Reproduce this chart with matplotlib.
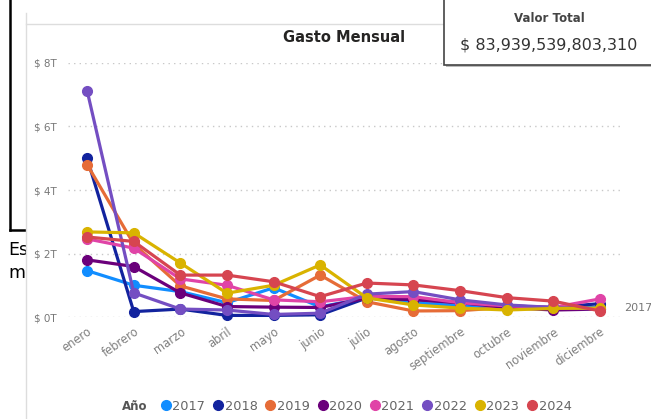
import matplotlib.pyplot as plt
from matplotlib.patches import Rectangle
from matplotlib.lines import Line2D

meses = ['enero', 'febrero', 'marzo', 'abril', 'mayo', 'junio', 'julio',
         'agosto', 'septiembre', 'octubre', 'noviembre', 'diciembre']
anios = ['2017', '2018', '2019', '2020', '2021', '2022', '2023', '2024']
colores = ['#118DFF', '#12239E', '#E66C37', '#6B007B',
           '#E044A7', '#744EC2', '#D9B300', '#D64550']

# gasto mensual en billones (T)
g2017 = [1.46, 1.0, 0.8, 0.45, 0.92, 0.32, 0.6, 0.45, 0.35, 0.3, 0.3, 0.3]
g2018 = [5.0, 0.17, 0.25, 0.05, 0.05, 0.07, 0.6, 0.55, 0.45, 0.35, 0.3, 0.42]
g2019 = [4.8, 2.3, 0.98, 0.57, 0.52, 1.32, 0.48, 0.19, 0.2, 0.3, 0.3, 0.25]
g2020 = [1.8, 1.59, 0.76, 0.33, 0.31, 0.3, 0.6, 0.55, 0.45, 0.3, 0.22, 0.25]
g2021 = [2.46, 2.17, 1.2, 1.0, 0.54, 0.48, 0.65, 0.64, 0.45, 0.35, 0.3, 0.57]
g2022 = [7.13, 0.76, 0.25, 0.22, 0.08, 0.12, 0.72, 0.8, 0.54, 0.38, 0.3, 0.25]
g2023 = [2.68, 2.65, 1.7, 0.75, 1.0, 1.64, 0.6, 0.38, 0.28, 0.22, 0.27, 0.28]
g2024 = [2.52, 2.38, 1.32, 1.32, 1.11, 0.64, 1.07, 1.01, 0.83, 0.61, 0.5, 0.19]
series = [g2017, g2018, g2019, g2020, g2021, g2022, g2023, g2024]

yticks = [0, 2, 4, 6, 8]
ylabels = ['$ 0T', '$ 2T', '$ 4T', '$ 6T', '$ 8T']

W, H = 651, 419
fig = plt.figure(figsize=(W / 100, H / 100), dpi=100)

def fx(px):
    return px / W

def fy(py):
    return 1 - py / H

# texto de fondo tapado por el panel
fig.text(fx(8), fy(255), 'Es', fontsize=12.5, color='black', zorder=1)
fig.text(fx(8), fy(278), 'm', fontsize=12.5, color='black', zorder=1)
fig.add_artist(Line2D([fx(10), fx(10)], [fy(0), fy(230)], color='black', lw=1.8, zorder=1))
fig.add_artist(Line2D([fx(10), fx(30)], [fy(230), fy(230)], color='black', lw=1.8, zorder=1))

# panel blanco del visual
fig.add_artist(Rectangle((fx(26), 0), 1 - fx(26), fy(24), transform=fig.transFigure,
                         facecolor='white', edgecolor='none', zorder=2))
fig.add_artist(Line2D([fx(26), fx(26)], [0, fy(13)], color='#dddddd', lw=1, zorder=2))
fig.add_artist(Line2D([fx(26), 1], [fy(24), fy(24)], color='#dddddd', lw=1, zorder=2))

ax = fig.add_axes([fx(68), fy(317), fx(620) - fx(68), fy(63) - fy(317)])
ax.set_zorder(3)
ax.patch.set_alpha(0)

x = range(len(meses))
for s, c in zip(series, colores):
    ax.plot(x, s, color=c, lw=2.3, marker='o', ms=7, clip_on=False)

ax.set_xlim(-0.41, 11.43)
ax.set_ylim(0, 8)
ax.set_yticks(yticks)
ax.set_yticklabels(ylabels, color='#777777', fontsize=7.5)
ax.set_xticks(list(x))
ax.set_xticklabels(meses, rotation=35, ha='right', rotation_mode='anchor',
                   color='#808080', fontsize=8.3)
ax.tick_params(length=0, axis='y', pad=8)
ax.tick_params(length=0, axis='x', pad=6)
ax.grid(axis='y', linestyle=(0, (1, 3)), color='#c8c8c8', lw=1)
for sp in ax.spines.values():
    sp.set_visible(False)

fig.text(fx(344), fy(37), 'Gasto Mensual', fontsize=10.5, fontweight='bold',
         color='#252423', ha='center', va='center', zorder=4)

fig.text(fx(624), fy(308), '2017', fontsize=8, color='#777777', va='center', zorder=4)

# leyenda
fig.text(fx(122), fy(406), 'Año', fontsize=8.5, fontweight='bold', color='#555555',
         va='center', zorder=4)
handles = [Line2D([], [], marker='o', ls='none', color=c, ms=7) for c in colores]
leg = fig.legend(handles, anios, loc='center left', bbox_to_anchor=(fx(153), fy(406)),
                 ncol=8, frameon=False, fontsize=9.3, handletextpad=-0.1,
                 columnspacing=0.4, handlelength=1.2, borderaxespad=0)
for t in leg.get_texts():
    t.set_color('#666666')
leg.set_zorder(4)

# tarjeta de valor total
fig.add_artist(Rectangle((fx(446), fy(67)), 1 - fx(446), fy(0) - fy(67) + 0.02,
                         transform=fig.transFigure, facecolor='#bbbbbb',
                         edgecolor='none', zorder=4))
fig.add_artist(Rectangle((fx(444), fy(65)), 1 - fx(444) + 0.01, fy(0) - fy(65) + 0.02,
                         transform=fig.transFigure, facecolor='white',
                         edgecolor='#444444', lw=1.2, zorder=5))
fig.text(fx(549), fy(18), 'Valor Total', fontsize=8.5, fontweight='bold',
         color='#444444', ha='center', va='center', zorder=6)
fig.text(fx(549), fy(45), '$ 83,939,539,803,310', fontsize=11.5,
         color='#333333', ha='center', va='center', zorder=6)

fig.savefig('out.png', dpi=100)
